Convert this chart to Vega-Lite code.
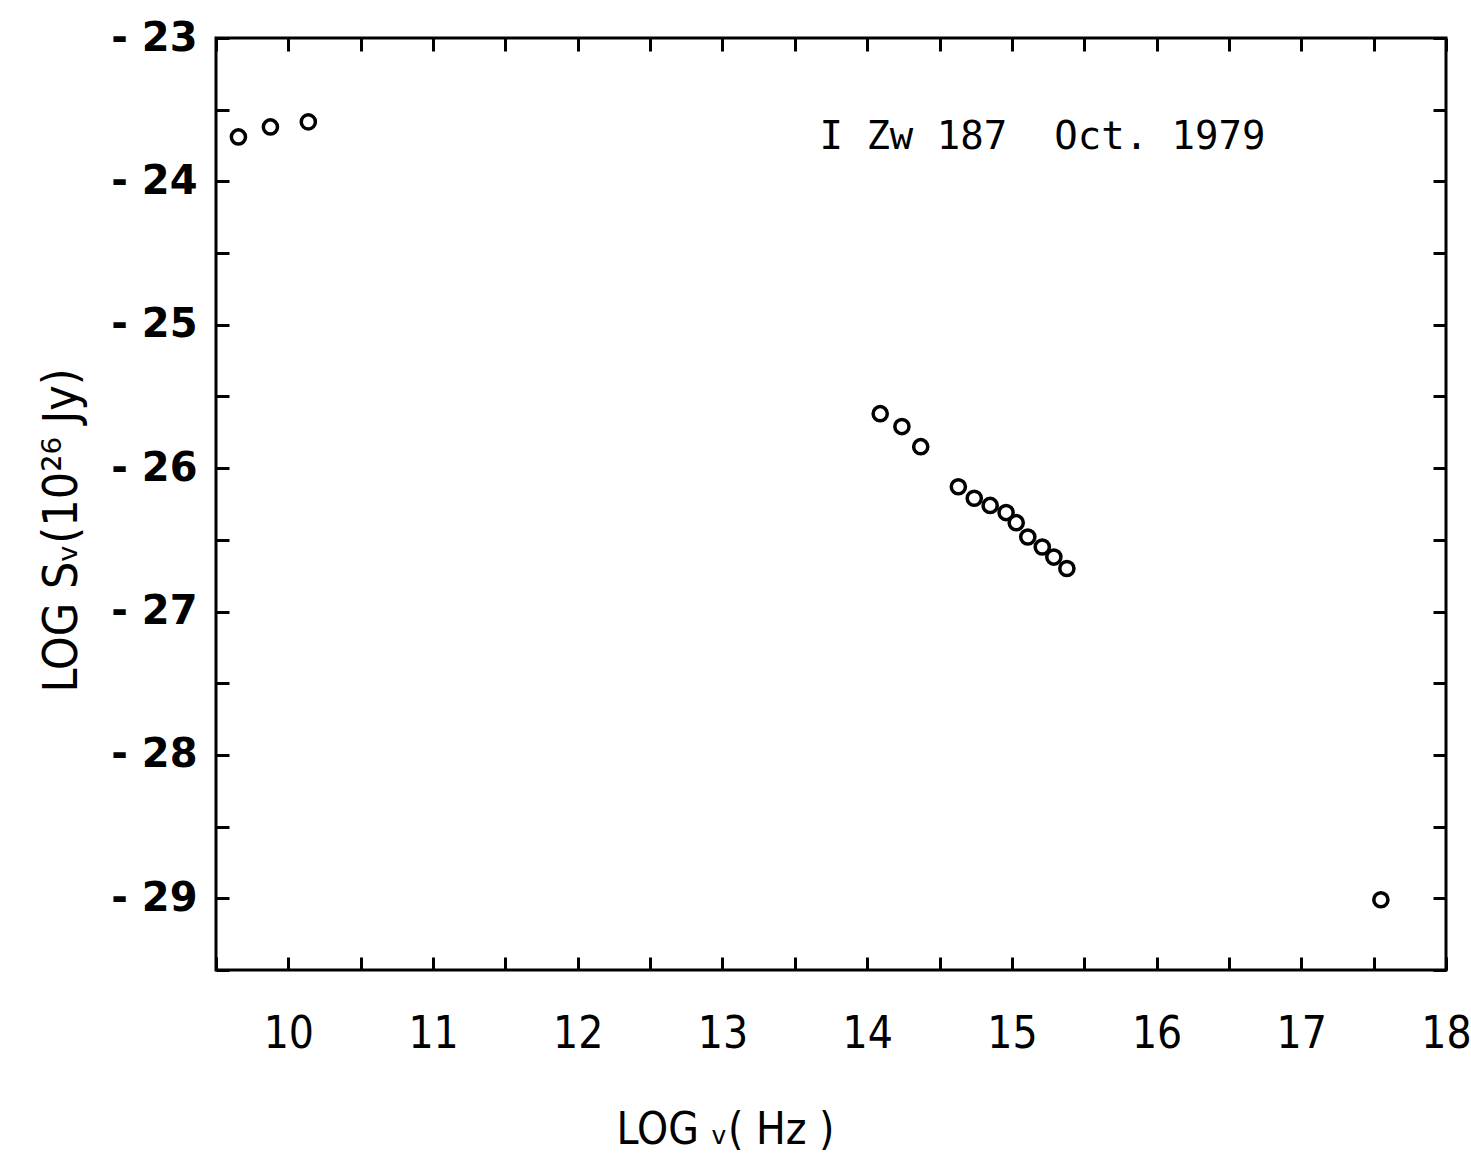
{
  "$schema": "https://vega.github.io/schema/vega-lite/v6.json",
  "width": 1230,
  "height": 932,
  "autosize": "none",
  "padding": {"left": 216, "top": 38, "right": 25, "bottom": 185},
  "background": "white",
  "config": {
    "view": {"stroke": "black", "strokeWidth": 3},
    "axis": {"grid": false, "domain": false, "tickColor": "black", "tickWidth": 3, "tickSize": -13, "labelColor": "black", "titleColor": "black"}
  },
  "datasets": {
    "sed": [
      {"lognu": 9.655, "logS": -23.69},
      {"lognu": 9.876, "logS": -23.62},
      {"lognu": 10.138, "logS": -23.585},
      {"lognu": 14.09, "logS": -25.62},
      {"lognu": 14.24, "logS": -25.71},
      {"lognu": 14.37, "logS": -25.85},
      {"lognu": 14.63, "logS": -26.13},
      {"lognu": 14.74, "logS": -26.21},
      {"lognu": 14.85, "logS": -26.26},
      {"lognu": 14.96, "logS": -26.31},
      {"lognu": 15.03, "logS": -26.38},
      {"lognu": 15.11, "logS": -26.48},
      {"lognu": 15.21, "logS": -26.55},
      {"lognu": 15.29, "logS": -26.62},
      {"lognu": 15.38, "logS": -26.70},
      {"lognu": 17.55, "logS": -29.01}
    ],
    "label": [
      {"lognu": 13.67, "logS": -23.69, "text": "I Zw 187\u00a0\u00a0Oct. 1979"}
    ]
  },
  "resolve": {"axis": {"x": "independent", "y": "independent"}},
  "layer": [
    {
      "data": {"name": "sed"},
      "mark": {"type": "point", "shape": "circle", "filled": false, "stroke": "black", "strokeWidth": 3.5, "size": 200, "opacity": 1},
      "encoding": {
        "x": {
          "field": "lognu", "type": "quantitative",
          "scale": {"domain": [9.5, 18], "nice": false, "zero": false},
          "axis": {
            "orient": "bottom",
            "values": [9.5, 10, 10.5, 11, 11.5, 12, 12.5, 13, 13.5, 14, 14.5, 15, 15.5, 16, 16.5, 17, 17.5, 18],
            "labelExpr": "datum.value % 1 == 0 ? format(datum.value, 'd') : ''",
            "labelFont": "Liberation Sans Narrow, DejaVu Sans Condensed, sans-serif",
            "labelFontSize": 44,
            "labelPadding": 55,
            "labelFlush": false,
            "labelOverlap": false,
            "title": "LOG ᵥ( Hz )",
            "titleFont": "Liberation Sans Narrow, DejaVu Sans Condensed, sans-serif",
            "titleFontSize": 44,
            "titleFontWeight": "normal",
            "titleX": 509,
            "titleY": 138,
            "titleBaseline": "top"
          }
        },
        "y": {
          "field": "logS", "type": "quantitative",
          "scale": {"domain": [-29.5, -23], "nice": false, "zero": false},
          "axis": {
            "orient": "left",
            "values": [-29.5, -29, -28.5, -28, -27.5, -27, -26.5, -26, -25.5, -25, -24.5, -24, -23.5, -23],
            "labelExpr": "datum.value % 1 == 0 ? '- ' + format(abs(datum.value), 'd') : ''",
            "labelFont": "DejaVu Sans",
            "labelFontWeight": "bold",
            "labelFontSize": 40,
            "labelPadding": 32,
            "labelFlush": false,
            "labelOverlap": false,
            "title": "LOG Sᵥ(10²⁶ Jy)",
            "titleFont": "DejaVu Sans Condensed, sans-serif",
            "titleFontSize": 48,
            "titleFontWeight": "normal",
            "titlePadding": 24,
            "titleY": 492
          }
        }
      }
    },
    {
      "data": {"name": "label"},
      "mark": {"type": "text", "align": "left", "baseline": "middle", "font": "DejaVu Sans Mono", "fontSize": 39, "color": "black"},
      "encoding": {
        "x": {"field": "lognu", "type": "quantitative", "axis": {"orient": "top", "values": [9.5, 10, 10.5, 11, 11.5, 12, 12.5, 13, 13.5, 14, 14.5, 15, 15.5, 16, 16.5, 17, 17.5, 18], "labels": false, "title": null}},
        "y": {"field": "logS", "type": "quantitative", "axis": {"orient": "right", "values": [-29.5, -29, -28.5, -28, -27.5, -27, -26.5, -26, -25.5, -25, -24.5, -24, -23.5, -23], "labels": false, "title": null}},
        "text": {"field": "text"}
      }
    }
  ]
}
